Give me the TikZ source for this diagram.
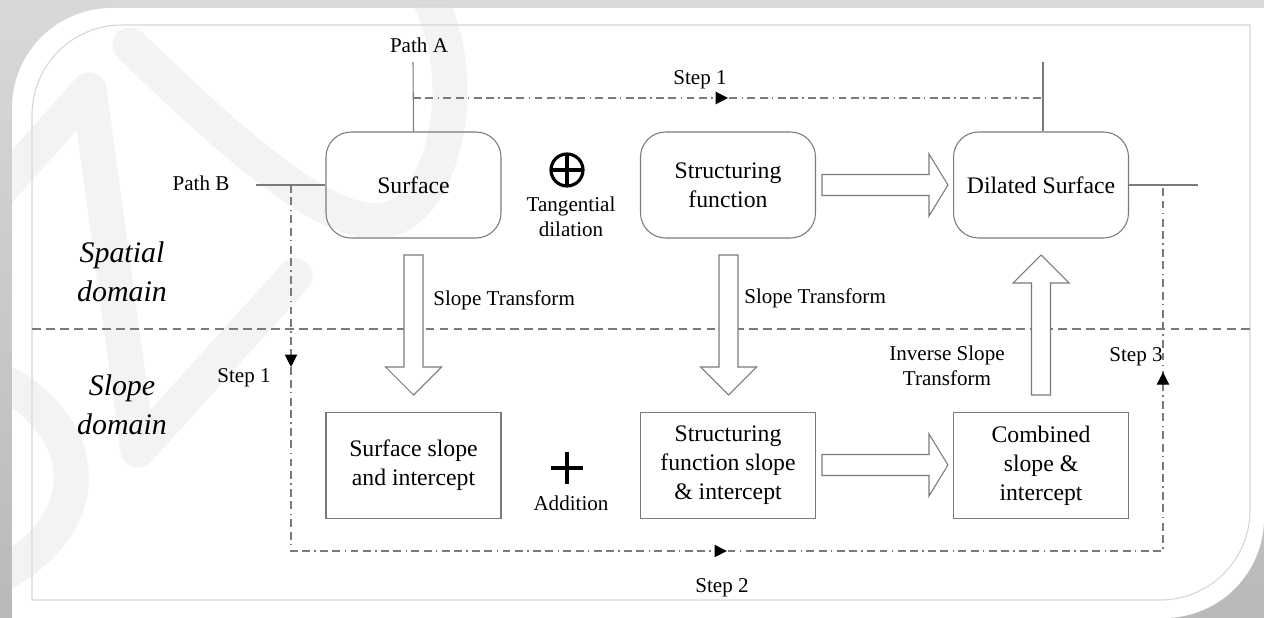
\documentclass[tikz,border=0pt]{standalone}
\usepackage{fontspec}
\setmainfont{Liberation Serif}
\usetikzlibrary{arrows.meta,decorations.markings}

\definecolor{linegray}{HTML}{7A7A7A}
\definecolor{framegray}{HTML}{D6D6D6}
\definecolor{wmark}{HTML}{F3F3F3}

% hollow block arrow: start, angle, length, shaft half, head half, head length
\newcommand{\blockarrow}[6]{%
  \draw[blockarr, shift={#1}, rotate=#2]
    (0,-#4) -- ({#3-#6},-#4) -- ({#3-#6},-#5) -- (#3,0)
    -- ({#3-#6},#5) -- ({#3-#6},#4) -- (0,#4) -- cycle;}
% white card outline
\newcommand{\cardpath}{(12,618) -- (12,300) [rounded corners=2cm] -- (12,8) -- (600,8)
  [sharp corners] -- (1264,8) -- (1264,300) [rounded corners=2cm]
  -- (1264,618) -- (600,618) [sharp corners] -- cycle}

\begin{document}
\begin{tikzpicture}[x=0.02cm,y=-0.02cm,
  box/.style={draw=linegray, line width=0.6pt, minimum width=3.5cm,
    minimum height=2.12cm, align=center, inner sep=0pt,
    font=\fontsize{13.5}{16.5}\selectfont},
  rbox/.style={box, rounded corners=0.5cm},
  lbl/.style={font=\fontsize{12}{14.2}\selectfont, align=center, inner sep=0pt},
  dom/.style={font=\fontsize{17}{22}\selectfont\itshape, align=center, inner sep=0pt},
  wire/.style={draw=linegray, line width=0.6pt},
  steppath/.style={draw=linegray, line width=0.6pt,
    dash pattern=on 4.5pt off 2.5pt on 4.5pt off 2.5pt on 0.8pt off 2.5pt},
  steptip/.tip={Triangle[length=7pt,width=7pt]},
  blockarr/.style={draw=linegray, fill=white, line width=0.6pt}
]
\useasboundingbox (0,0) rectangle (1264,618);

% frame
\shade[top color=gray!30, bottom color=gray!55] (0,0) rectangle (1264,618);
\fill[white] \cardpath;

% watermark
\begin{scope}
  \clip \cardpath;
  \begin{scope}[draw=wmark, line width=20pt, line cap=round, line join=round]
    \draw (0,190) -- (89,90) -- (138,450) -- (295,276);
    \draw (130,45) .. controls (300,210) and (380,260) .. (425,190)
      .. controls (460,130) and (455,50) .. (430,0);
    \draw (0,380) .. controls (95,430) and (95,525) .. (0,575);
  \end{scope}
\end{scope}

\draw[framegray, line width=0.6pt] (32,600) -- (32,300) [rounded corners=1.8cm]
  -- (32,25) -- (600,25) [sharp corners] -- (1250,25) -- (1250,300)
  [rounded corners=1.8cm] -- (1250,600) -- (600,600) [sharp corners] -- cycle;

% separator
\draw[linegray, line width=0.6pt, dash pattern=on 5pt off 3pt] (32,329) -- (1250,329);

% boxes
\node[rbox] (surf) at (413.5,185) {Surface};
\node[rbox] (strf) at (728,185) {Structuring\\function};
\node[rbox] (dil) at (1041,185) {Dilated Surface};
\node[box] (surfsl) at (413.5,465.5) {Surface slope\\and intercept};
\node[box] (strsl) at (728,465.5) {Structuring\\function slope\\\& intercept};
\node[box] (comb) at (1041,465.5) {Combined\\slope \&\\intercept};

% labels
\node[lbl] (pa) at (419,45) {Path A};
\node[lbl] (pb) at (201,183) {Path B};
\node[lbl] (st1a) at (700,80) {Step 1};
\node[lbl] (st1b) at (244,378) {Step 1};
\node[lbl] (st2) at (722,588) {Step 2};
\node[lbl] (st3) at (1136,357) {Step 3};
\node[lbl] (tang) at (571,217) {Tangential\\dilation};
\node[lbl] (add) at (571,503) {Addition};
\node[lbl, anchor=west] (slt1) at (433,300) {Slope Transform};
\node[lbl, anchor=west] (slt2) at (744,298) {Slope Transform};
\node[lbl] (islt) at (947,366) {Inverse Slope\\Transform};
\node[dom] (spat) at (122,272) {Spatial\\domain};
\node[dom] (sldom) at (122,405) {Slope\\domain};

% operators
\draw[line width=1.8pt] (567,170) circle (16);
\draw[line width=1.8pt] (551,170) -- (583,170) (567,154) -- (567,186);
\draw[line width=2pt] (551,468) -- (583,468) (567,452) -- (567,484);

% wires
\coordinate (topA) at (413,62);
\coordinate (topD) at (1043,62);
\coordinate (outR) at (1198,185);
\coordinate (jA) at (413,98);
\coordinate (jD) at (1043,98);
\coordinate (jB) at (291,185);
\coordinate (jC) at (1163,185);
\coordinate (c1) at (291,551);
\coordinate (c2) at (1163,551);
\draw[wire] (topA) -- (surf.north);
\draw[wire] (topD) -- (dil.north -| topD);
\draw[wire] (256,185) -- (surf.west);
\draw[wire] (dil.east) -- (outR);

% step paths
\draw[steppath, postaction={decorate}, decoration={markings,
    mark=at position 0.5 with {\arrow[black]{steptip}}}] (jA) -- (jD);
\draw[steppath, postaction={decorate}, decoration={markings,
    mark=at position 3.64cm with {\arrow[black]{steptip}},
    mark=at position 16.04cm with {\arrow[black]{steptip}},
    mark=at position 28.34cm with {\arrow[black]{steptip}}}]
  (jB) -- (c1) -- (c2) -- (jC);

% block arrows
\blockarrow{(822,185)}{0}{126}{10.5}{31}{19}
\blockarrow{(822,465)}{0}{126}{10.5}{31}{19}
\blockarrow{(413.5,255)}{-90}{140}{9.5}{28}{28}
\blockarrow{(728.5,255)}{-90}{140}{9.5}{28}{28}
\blockarrow{(1041,395)}{90}{140}{9.5}{28}{28}
\end{tikzpicture}
\end{document}
